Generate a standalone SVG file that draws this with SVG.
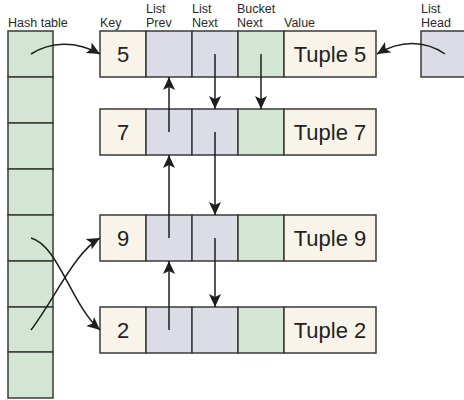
<svg xmlns="http://www.w3.org/2000/svg" width="464" height="400" viewBox="0 0 464 400">
<defs>
<style>
.cell{stroke:#3a3a3a;stroke-width:1.5}
.cream{fill:#f9f4e9}
.lav{fill:#dcdce6}
.green{fill:#d3e5d3}
.hdr{font-family:"Liberation Sans",Arial,sans-serif;font-size:12.5px;fill:#2a2a2a}
.big{font-family:"Liberation Sans",Arial,sans-serif;font-size:22px;fill:#222;text-anchor:middle}
.conn{fill:none;stroke:#1e1e1e;stroke-width:1.5}
</style>
<marker id="ah" markerUnits="userSpaceOnUse" markerWidth="14" markerHeight="14" viewBox="0 0 14 12" refX="13" refY="6" orient="auto">
<path d="M0,0 L13,6 L0,12 L3,6 z" fill="#1e1e1e"/>
</marker>
<g id="rowtpl">
<rect class="cell cream" x="100" y="0" width="46" height="46"/>
<rect class="cell lav" x="146" y="0" width="46" height="46"/>
<rect class="cell lav" x="192" y="0" width="46" height="46"/>
<rect class="cell green" x="238" y="0" width="46" height="46"/>
<rect class="cell cream" x="284" y="0" width="92" height="46"/>
</g>
</defs>
<rect width="464" height="400" fill="#ffffff"/>

<g id="headers">
<text class="hdr" x="8" y="26.5">Hash table</text>
<text class="hdr" x="100" y="26.5">Key</text>
<text class="hdr" x="146" y="12.5">List</text>
<text class="hdr" x="146" y="26.5">Prev</text>
<text class="hdr" x="192" y="12.5">List</text>
<text class="hdr" x="192" y="26.5">Next</text>
<text class="hdr" x="237" y="12.5">Bucket</text>
<text class="hdr" x="237" y="26.5">Next</text>
<text class="hdr" x="284" y="26.5">Value</text>
<text class="hdr" x="421" y="12.5">List</text>
<text class="hdr" x="421" y="26.5">Head</text>
</g>

<g id="hash-table">
<rect class="cell green" x="8" y="31" width="45" height="46"/>
<rect class="cell green" x="8" y="77" width="45" height="46"/>
<rect class="cell green" x="8" y="123" width="45" height="46"/>
<rect class="cell green" x="8" y="169" width="45" height="46"/>
<rect class="cell green" x="8" y="215" width="45" height="46"/>
<rect class="cell green" x="8" y="261" width="45" height="46"/>
<rect class="cell green" x="8" y="307" width="45" height="45"/>
<rect class="cell green" x="8" y="352" width="45" height="46"/>
</g>

<g id="list-head">
<rect class="cell lav" x="421" y="31" width="50" height="46"/>
</g>

<g id="row5">
<use href="#rowtpl" y="31"/>
<text class="big" x="123" y="62">5</text>
<text class="big" x="330" y="62">Tuple 5</text>
</g>
<g id="row7">
<use href="#rowtpl" y="109"/>
<text class="big" x="123" y="140">7</text>
<text class="big" x="330" y="140">Tuple 7</text>
</g>
<g id="row9">
<use href="#rowtpl" y="215"/>
<text class="big" x="123" y="246">9</text>
<text class="big" x="330" y="246">Tuple 9</text>
</g>
<g id="row2">
<use href="#rowtpl" y="307"/>
<text class="big" x="123" y="338">2</text>
<text class="big" x="330" y="338">Tuple 2</text>
</g>

<g id="connectors">
<path class="conn" d="M31,54 C50,42 75,40 100,54" marker-end="url(#ah)"/>
<path class="conn" d="M445,54 C425,40 400,40 377,54" marker-end="url(#ah)"/>
<path class="conn" d="M31,238 C58,245 72,306 100,330" marker-end="url(#ah)"/>
<path class="conn" d="M31,330 C55,298 75,252 100,238" marker-end="url(#ah)"/>
<path class="conn" d="M169,132 L169,77" marker-end="url(#ah)"/>
<path class="conn" d="M169,238 L169,155" marker-end="url(#ah)"/>
<path class="conn" d="M169,330 L169,261" marker-end="url(#ah)"/>
<path class="conn" d="M215,54 L215,109" marker-end="url(#ah)"/>
<path class="conn" d="M215,132 L215,215" marker-end="url(#ah)"/>
<path class="conn" d="M215,238 L215,307" marker-end="url(#ah)"/>
<path class="conn" d="M261,54 L261,109" marker-end="url(#ah)"/>
</g>
</svg>
